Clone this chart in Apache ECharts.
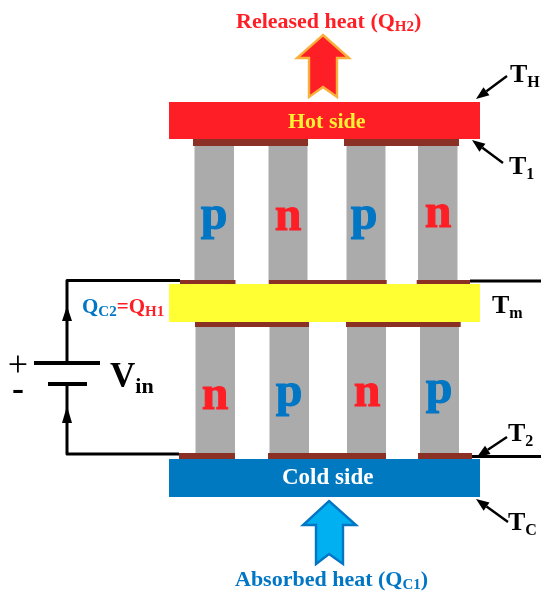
<!DOCTYPE html>
<html>
<head>
<meta charset="utf-8">
<style>html,body{margin:0;padding:0;background:#fff}#c{width:541px;height:593px}</style>
<script src="https://cdn.jsdelivr.net/npm/echarts@6/dist/echarts.min.js"></script>
</head>
<body>
<div id="c"></div>
<script>
// rectangles as [x0, y0, x1, y1] in diagram axis units
var hotPlate = [[169,102,480,139]];
var midPlate = [[169,284,480,322]];
var coldPlate = [[169,459,480,497]];
var legs = [
  [194.5,146,234,280],[268.5,146,307.5,280],[346.5,146,385.5,280],[418,146,457.5,280],
  [195.5,327,235,453],[269.5,327,309,453],[347,327,386,453],[420,327,459,453]
];
var electrodes = [
  [193,139,308,146],[344,139,459,146],
  [180,280,235.5,284],[268.7,280,386.7,284],[416.7,280,470,284],
  [195,322,309,327],[346,322,460.7,327],
  [179,453,235,459],[268,453,386,459],[418,453,472,459]
];
var batteryPlates = [[34,361,100,365],[48,382,87,386]];
var wires = [
  [[180,280.5],[67,280.5],[67,362]],
  [[67,385],[67,454],[179,454]],
  [[470,281],[541,281]],
  [[472,456.5],[541,456.5]]
];
var wireArrows = [
  [[67,306],[62,321],[72,321]],
  [[67,406],[62,423],[72,423]]
];
var heatArrowOut = [[323,35],[349,58],[337,58],[337,97],[323,87],[309,97],[309,58],[297,58]];
var heatArrowIn = [[329,501],[356,525],[343,525],[343,564],[329,554],[316,564],[316,525],[303,525]];
var pointerArrows = [
  [[507,76],[476,99]],
  [[503,163],[472,140]],
  [[507,437],[477,457]],
  [[508,522],[476,499]]
];
// letters: [text, centre x, baseline y]
var legLetters = [
  ['p',214,226],['n',288,227],['p',364,226],['n',438,224],
  ['n',215,406],['p',289,403],['n',367,403],['p',439,400]
];
// labels: [rich text, left x, baseline y, main size, sub size]
var labels = [
  ['{r|Released heat (Q}{rs|H2}{r|)}',236,28,22,15],
  ['{y|Hot side}',288,128,22,14],
  ['{w|Cold side}',282,484,23,14],
  ['{b|Absorbed heat (Q}{bs|C1}{b|)}',235,586,22,15],
  ['{b|Q}{bs|C2}{r|=Q}{rs|H1}',82,313,21,15],
  ['{k|T}{ks|H}',510,82,26,16],
  ['{k|T}{ks|1}',509,174,26,16],
  ['{k|T}{ks|m}',492,313,26,16],
  ['{k|T}{ks|2}',508,441,26,16],
  ['{k|T}{ks|C}',508,530,26,16],
  ['{k|V}{ks|in}',110,387,35,22]
];
// polarity marks: [text, centre x, baseline y, size, weight]
var polarity = [['+',18,376,36,'normal'],['-',18,400,36,'bold']];

var SERIF = '"Liberation Serif","Times New Roman",serif';
var RED='#FE1F26', BLUE='#0176C4', YEL='#FFF133', BROWN='#8A3024', GREY='#ABABAB', BLACK='#000';
var MID=0.25, LETTER_MID=0.19;

function rectSeries(data,fill){
  return {type:'custom',coordinateSystem:'cartesian2d',silent:true,data:data,
    renderItem:function(p,api){
      var a=api.coord([api.value(0),api.value(1)]),b=api.coord([api.value(2),api.value(3)]);
      return {type:'rect',shape:{x:a[0],y:a[1],width:b[0]-a[0],height:b[1]-a[1]},style:{fill:fill}};
    }};
}
function shapeSeries(list,make){
  return {type:'custom',coordinateSystem:'cartesian2d',silent:true,
    data:list.map(function(_,i){return [i,0];}),
    renderItem:function(p,api){ return make(list[p.dataIndex],api); }};
}
function px(pts,api){return pts.map(function(q){return api.coord(q);});}
function polygon(fill,stroke,w){
  return function(pts,api){
    return {type:'polygon',shape:{points:px(pts,api)},style:{fill:fill,stroke:stroke||null,lineWidth:w||0,lineJoin:'miter'}};
  };
}
function pointer(pts,api){
  var q=px(pts,api),s=q[0],e=q[1],dx=e[0]-s[0],dy=e[1]-s[1],L=Math.sqrt(dx*dx+dy*dy),ux=dx/L,uy=dy/L;
  var h=13,w=5;
  var bx=e[0]-ux*h,by=e[1]-uy*h;
  return {type:'group',children:[
    {type:'line',shape:{x1:s[0],y1:s[1],x2:bx,y2:by},style:{stroke:BLACK,lineWidth:2.4}},
    {type:'polygon',shape:{points:[e,[bx-uy*w,by+ux*w],[bx+uy*w,by-ux*w]]},style:{fill:BLACK}}
  ]};
}
function richStyles(main,sub){
  function t(size,fill,lh,va){return {fontFamily:SERIF,fontWeight:'bold',fontSize:size,fill:fill,lineHeight:lh,verticalAlign:va};}
  var lh=Math.round(main*1.15), out={};
  [['r',RED],['b',BLUE],['y',YEL],['w','#fff'],['k',BLACK]].forEach(function(c){
    out[c[0]]=t(main,c[1],lh,'middle');
    out[c[0]+'s']=t(sub,c[1],Math.round(sub),'bottom');
  });
  return {rich:out,lh:lh};
}

var option={
  animation:false,
  backgroundColor:'#fff',
  grid:{left:0,right:0,top:0,bottom:0},
  xAxis:{type:'value',min:0,max:541,show:false},
  yAxis:{type:'value',min:0,max:593,inverse:true,show:false},
  series:[
    rectSeries(legs,GREY),
    rectSeries(electrodes,BROWN),
    rectSeries(hotPlate,RED),
    rectSeries(midPlate,'#FFFF33'),
    rectSeries(coldPlate,'#0079C1'),
    rectSeries(batteryPlates,BLACK),
    shapeSeries(wires,function(pts,api){
      return {type:'polyline',shape:{points:px(pts,api)},style:{stroke:BLACK,lineWidth:3,fill:null,lineJoin:'round'}};
    }),
    shapeSeries(wireArrows,polygon(BLACK)),
    shapeSeries([heatArrowOut],polygon(RED,'#FBB03B',2.4)),
    shapeSeries([heatArrowIn],polygon('#00B0F0','#0176C4',2.4)),
    shapeSeries(pointerArrows,pointer),
    {type:'custom',coordinateSystem:'cartesian2d',silent:true,z:5,
      data:legLetters.map(function(d){return [d[1],d[2]];}),
      renderItem:function(p,api){
        var d=legLetters[p.dataIndex],c=api.coord([d[1],d[2]]),col=d[0]==='p'?BLUE:RED;
        return {type:'text',style:{text:d[0],x:c[0],y:c[1]-LETTER_MID*48,align:'center',verticalAlign:'middle',
          font:'bold 48px '+SERIF,fill:col,stroke:col,lineWidth:1}};
      }},
    {type:'custom',coordinateSystem:'cartesian2d',silent:true,z:5,
      data:labels.map(function(d){return [d[1],d[2]];}),
      renderItem:function(p,api){
        var d=labels[p.dataIndex],c=api.coord([d[1],d[2]]),r=richStyles(d[3],d[4]);
        return {type:'text',style:{text:d[0],rich:r.rich,x:c[0],y:c[1]+(r.lh/2-MID*d[3]),align:'left',verticalAlign:'bottom'}};
      }},
    {type:'custom',coordinateSystem:'cartesian2d',silent:true,z:5,
      data:polarity.map(function(d){return [d[1],d[2]];}),
      renderItem:function(p,api){
        var d=polarity[p.dataIndex],c=api.coord([d[1],d[2]]);
        return {type:'text',style:{text:d[0],x:c[0],y:c[1]-MID*d[3],align:'center',verticalAlign:'middle',
          font:d[4]+' '+d[3]+'px '+SERIF,fill:BLACK}};
      }}
  ]
};
var chart=echarts.init(document.getElementById('c'),null,{renderer:'canvas'});
chart.setOption(option);
</script>
</body>
</html>
